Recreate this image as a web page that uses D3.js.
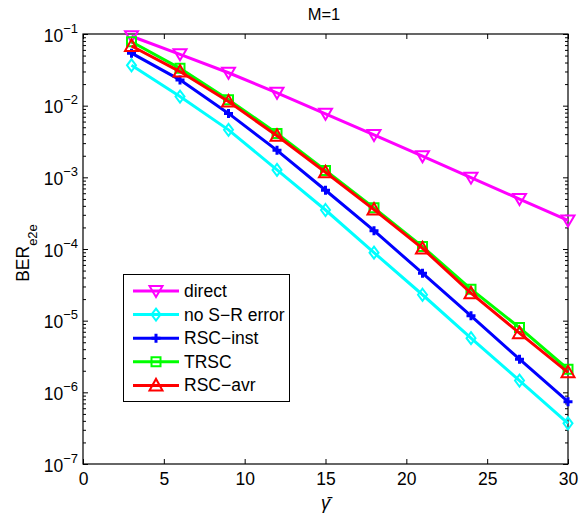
<!DOCTYPE html>
<html><head><meta charset="utf-8">
<script src="https://cdn.jsdelivr.net/npm/d3@7"></script>
<style>body{margin:0;background:#fff}svg{display:block}text{font-family:"Liberation Sans",Arial,sans-serif}</style>
</head><body>
<svg id="c" width="588" height="516"></svg>
<script>
const title = "M=1";
const xValues = [3, 6, 9, 12, 15, 18, 21, 24, 27, 30];
const seriesNames = ["direct", "no S\u2212R error", "RSC\u2212inst", "TRSC", "RSC\u2212avr"];
const direct   = [0.093, 0.052, 0.0288, 0.0151, 0.0077, 0.0039, 0.00197, 0.00099, 0.000498, 0.00025];
const noSR     = [0.0366, 0.0134, 0.0046, 0.00127, 0.00035, 0.000089, 0.000023, 0.0000057, 0.00000146, 0.00000037];
const rscInst  = [0.054, 0.0229, 0.0078, 0.00238, 0.00066, 0.000180, 0.000046, 0.0000117, 0.0000029, 0.00000074];
const trsc     = [0.078, 0.0332, 0.0121, 0.0041, 0.00125, 0.000375, 0.000108, 0.0000275, 0.0000080, 0.0000021];
const rscAvr   = [0.068, 0.0299, 0.0114, 0.0038, 0.00118, 0.000355, 0.000102, 0.0000242, 0.0000067, 0.0000019];
const colors   = ["#ff00ff", "#00ffff", "#0000ff", "#00ff00", "#ff0000"];
const markers  = ["tdown", "diamond", "plus", "square", "tup"];
const xTicks = [0, 5, 10, 15, 20, 25, 30];
const yExps = [-1, -2, -3, -4, -5, -6, -7];

const allSeries = [direct, noSR, rscInst, trsc, rscAvr];
const svg = d3.select("#c");
const L = 83, R = 568, T = 34, B = 464;
const x = d3.scaleLinear().domain([0, 30]).range([L, R]);
const y = d3.scaleLog().domain([1e-7, 1e-1]).range([B, T]);

const minor = [];
for (let e = -7; e < -1; e++) for (let m = 2; m <= 9; m++) minor.push(m * Math.pow(10, e));
const majorY = yExps.map(e => Math.pow(10, e));

svg.append("g").attr("transform", `translate(0,${B})`)
  .call(d3.axisBottom(x).tickValues(xTicks).tickSize(-5).tickPadding(9).tickFormat(d3.format("d")))
  .call(g => g.select(".domain").remove());
svg.append("g").attr("transform", `translate(0,${T})`)
  .call(d3.axisTop(x).tickValues(xTicks).tickSize(-5).tickFormat(""))
  .call(g => g.select(".domain").remove());
svg.append("g").attr("transform", `translate(${L},0)`)
  .call(d3.axisLeft(y).tickValues(majorY).tickSize(-5).tickFormat(""))
  .call(g => g.select(".domain").remove());
svg.append("g").attr("transform", `translate(${R},0)`)
  .call(d3.axisRight(y).tickValues(majorY).tickSize(-5).tickFormat(""))
  .call(g => g.select(".domain").remove());
svg.append("g").attr("transform", `translate(${L},0)`)
  .call(d3.axisLeft(y).tickValues(minor).tickSize(-3).tickFormat(""))
  .call(g => g.select(".domain").remove());
svg.append("g").attr("transform", `translate(${R},0)`)
  .call(d3.axisRight(y).tickValues(minor).tickSize(-3).tickFormat(""))
  .call(g => g.select(".domain").remove());
svg.selectAll(".tick line").attr("stroke", "#000").attr("stroke-width", 1);
svg.selectAll(".tick text").attr("font-size", 17.5).attr("fill", "#000")
  .attr("font-family", "'Liberation Sans',Arial,sans-serif");

svg.append("rect").attr("x", L).attr("y", T).attr("width", R - L).attr("height", B - T)
  .attr("fill", "none").attr("stroke", "#000").attr("stroke-width", 1.2);

yExps.forEach(e => {
  const t = svg.append("text").attr("x", 78).attr("y", y(Math.pow(10, e)) + 7.5)
    .attr("text-anchor", "end").attr("font-size", 17.5).attr("fill", "#000");
  t.append("tspan").text("10");
  t.append("tspan").attr("dy", -9).attr("font-size", 13).text("\u2212" + Math.abs(e));
});

svg.append("text").attr("x", 324).attr("y", 20).attr("text-anchor", "middle")
  .attr("font-size", 16.5).text(title);

svg.append("text").attr("x", (L + R) / 2).attr("y", 509).attr("text-anchor", "middle")
  .attr("font-size", 18).attr("font-style", "italic").attr("font-family", "'Liberation Serif',serif")
  .text("\u03B3\u0304");

const yl = svg.append("text").attr("transform", `translate(29,253) rotate(-90)`)
  .attr("text-anchor", "middle").attr("font-size", 17.5);
yl.append("tspan").text("BER");
yl.append("tspan").attr("dy", 8).attr("font-size", 13).text("e2e");

function markerPath(type) {
  switch (type) {
    case "tdown": return "M-6.5,-5L6.5,-5L0,6Z";
    case "tup": return "M-6.5,5L6.5,5L0,-6.5Z";
    case "diamond": return "M0,-6L4.5,0L0,6L-4.5,0Z";
    case "square": return "M-4.5,-4.5H4.5V4.5H-4.5Z";
    case "plus": return "M-4.5,0H4.5M0,-4.5V4.5";
  }
}

const line = d3.line().x((d, i) => x(xValues[i])).y(d => y(d));
allSeries.forEach((s, k) => {
  const g = svg.append("g");
  g.append("path").datum(s).attr("d", line).attr("fill", "none")
    .attr("stroke", colors[k]).attr("stroke-width", 3);
  g.selectAll("path.m").data(s).enter().append("path").attr("class", "m")
    .attr("transform", (d, i) => `translate(${x(xValues[i])},${y(d)})`)
    .attr("d", markerPath(markers[k])).attr("fill", "none")
    .attr("stroke", colors[k]).attr("stroke-width", markers[k] === "plus" ? 3 : 2);
});

const lg = svg.append("g");
lg.append("rect").attr("x", 123.5).attr("y", 274.5).attr("width", 166).attr("height", 127)
  .attr("fill", "#fff").attr("stroke", "#000").attr("stroke-width", 1);
seriesNames.forEach((n, k) => {
  const yy = 291 + k * 23.6;
  lg.append("line").attr("x1", 133).attr("x2", 179).attr("y1", yy).attr("y2", yy)
    .attr("stroke", colors[k]).attr("stroke-width", 3);
  lg.append("path").attr("transform", `translate(156,${yy})`).attr("d", markerPath(markers[k]))
    .attr("fill", "none").attr("stroke", colors[k]).attr("stroke-width", markers[k] === "plus" ? 3 : 2);
  lg.append("text").attr("x", 184).attr("y", yy + 6).attr("font-size", 17.5).text(n);
});
</script>
</body></html>
